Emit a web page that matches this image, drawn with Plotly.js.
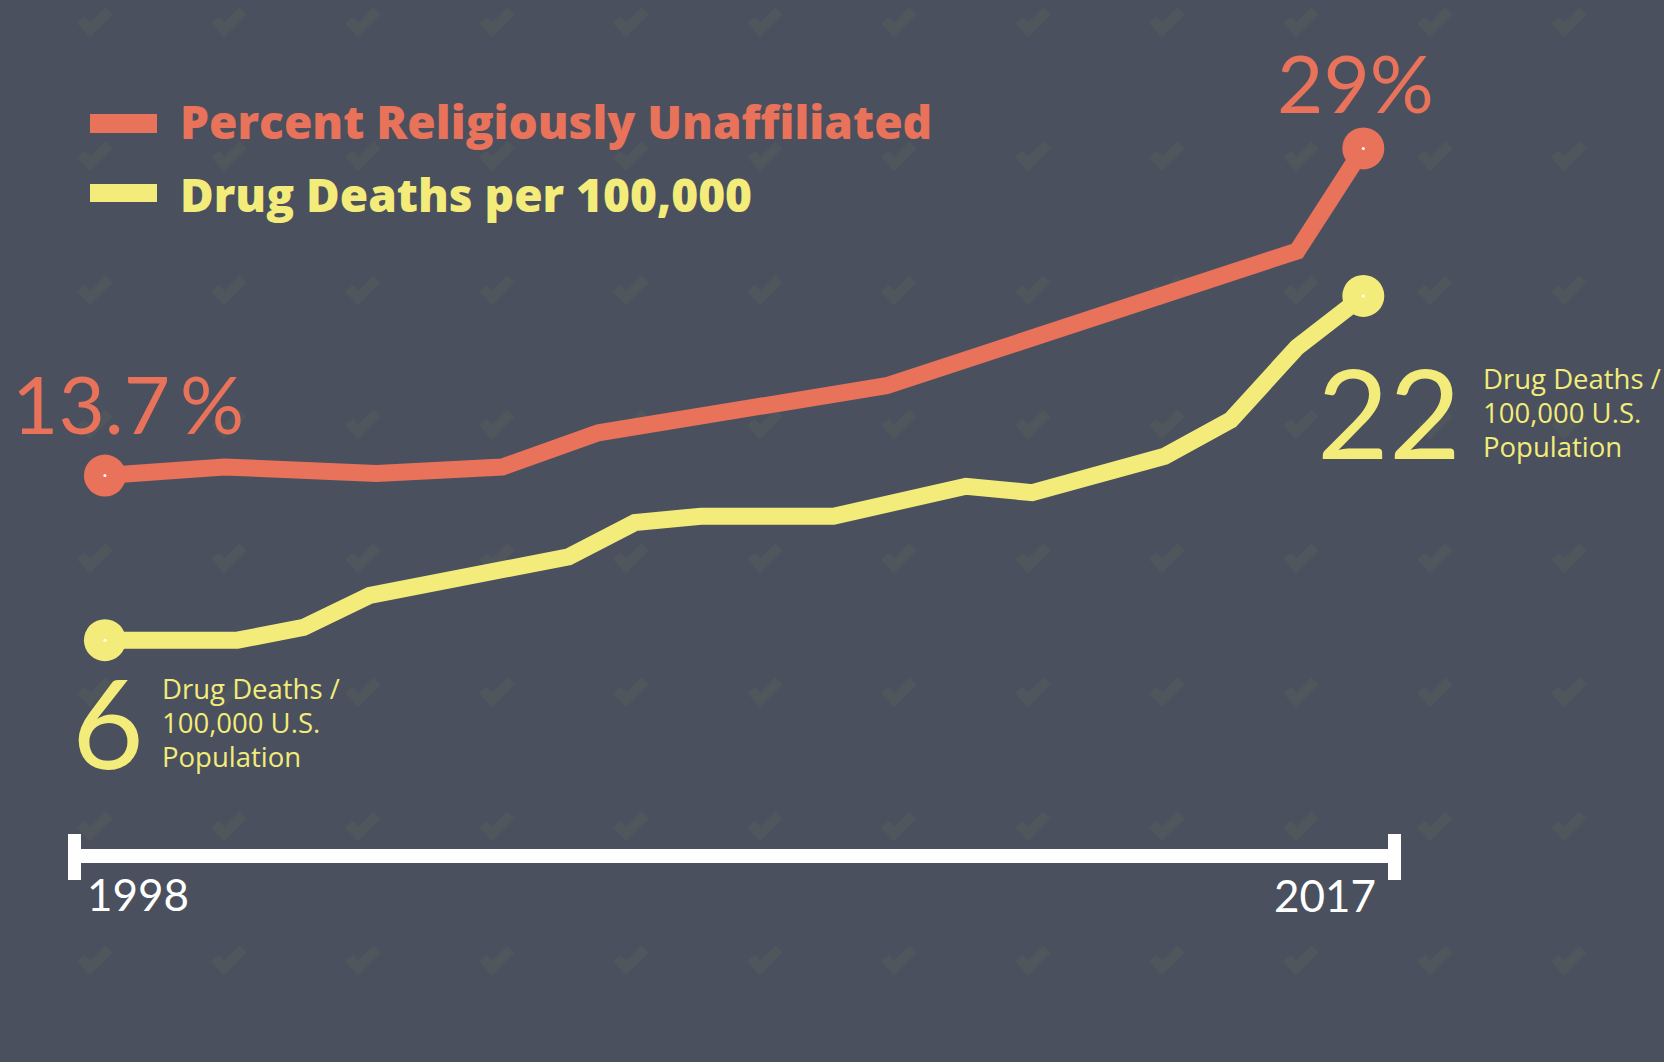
<!DOCTYPE html>
<html>
<head>
<meta charset="utf-8">
<script src="https://cdn.plot.ly/plotly-3.0.1.min.js"></script>
<style>
html, body { margin:0; padding:0; }
body {
  width:1664px; height:1062px; overflow:hidden;
  background-color:#4a505d;
  background-image:url("data:image/svg+xml;utf8,<svg xmlns='http://www.w3.org/2000/svg' width='134' height='134'><path d='M53,64 L62,74 L81,55' fill='none' stroke='%234f565c' stroke-width='10'/></svg>");
  background-size:134px 134px;
  background-position:28px -44px;
}
#chart { width:1664px; height:1062px; }
</style>
</head>
<body>
<div id="chart"></div>
<script>
// ---- data ----
const unaffiliatedYears = [1998, 1999.8, 2002.1, 2004.0, 2005.45, 2009.8, 2016.0, 2017];
const unaffiliatedPct   = [13.7, 14.1, 13.8, 14.1, 15.7, 17.9, 24.2, 29.0];

const drugYears  = [1998, 2000, 2001, 2002, 2005, 2006, 2007, 2009, 2011, 2012, 2014, 2015, 2016, 2017];
const drugDeaths = [6.0, 6.0, 6.6, 8.1, 9.9, 11.5, 11.8, 11.8, 13.2, 12.9, 14.6, 16.3, 19.7, 22.1];

const seriesNames = ["Percent Religiously Unaffiliated", "Drug Deaths per 100,000"];
const axisLabels  = ["1998", "2017"];
const startLabels = ["13.7\u2009%", "6"];
const endLabels   = ["29%", "22"];
const unitLines   = ["Drug Deaths /", "100,000 U.S.", "Population"];

// ---- styling ----
const RED = "#e8725a";
const YEL = "#f3ec7a";
const W = 1664, H = 1062;
const px = x => x / W;
const py = y => 1 - y / H;

function endpoints(xs, ys) {
  return { x: [xs[0], xs[xs.length - 1]], y: [ys[0], ys[ys.length - 1]] };
}
const rEnd = endpoints(unaffiliatedYears, unaffiliatedPct);
const yEnd = endpoints(drugYears, drugDeaths);

const traces = [
  { x: drugYears, y: drugDeaths, mode: "lines", line: { color: YEL, width: 17 }, hoverinfo: "skip" },
  { x: unaffiliatedYears, y: unaffiliatedPct, mode: "lines", line: { color: RED, width: 17 }, hoverinfo: "skip" },
  { x: yEnd.x, y: yEnd.y, mode: "markers", marker: { color: YEL, size: 42 }, hoverinfo: "skip" },
  { x: rEnd.x, y: rEnd.y, mode: "markers", marker: { color: RED, size: 42 }, hoverinfo: "skip" },
  { x: yEnd.x.concat(rEnd.x), y: yEnd.y.concat(rEnd.y), mode: "markers", marker: { color: "#ffffff", size: 3 }, hoverinfo: "skip" }
];

const numFont  = (size, color) => ({ family: "Lato, 'Open Sans', sans-serif", size: size, color: color, weight: 400 });
const smallFont = (size, color) => ({ family: "'Open Sans', Lato, sans-serif", size: size, color: color, weight: 400 });
const boldFont = (size, color) => ({ family: "'Open Sans', Lato, sans-serif", size: size, color: color, weight: 800 });

function ann(text, x, y, xanchor, font) {
  return { text: text, xref: "paper", yref: "paper", x: px(x), y: py(y),
           xanchor: xanchor, yanchor: "middle", showarrow: false, font: font, align: "left" };
}

const annotations = [
  ann(seriesNames[0], 178, 121, "left", boldFont(46, RED)),
  ann(seriesNames[1], 178, 194, "left", boldFont(46, YEL)),
  ann(startLabels[0], 10, 403, "left", numFont(80, RED)),
  ann(endLabels[0], 1275, 82, "left", numFont(80, RED)),
  ann(startLabels[1], 70, 721, "left", numFont(124, YEL)),
  ann(endLabels[1], 1315, 411, "left", numFont(124, YEL)),
  ann(axisLabels[0], 85, 894, "left", numFont(44, "#ffffff")),
  ann(axisLabels[1], 1378, 895, "right", numFont(44, "#ffffff"))
];

// unit text blocks, one annotation per line (baselines)
const leftBase = [699, 733, 767], rightBase = [389, 423, 457];
unitLines.forEach((t, i) => {
  annotations.push(ann(t, 160, leftBase[i] - 10.5, "left", smallFont(27.5, YEL)));
  annotations.push(ann(t, 1481, rightBase[i] - 10.5, "left", smallFont(27.5, YEL)));
});

function rect(x0, y0, x1, y1, color) {
  return { type: "rect", xref: "paper", yref: "paper", x0: px(x0), x1: px(x1), y0: py(y1), y1: py(y0),
           fillcolor: color, line: { width: 0 }, layer: "below" };
}

const shapes = [
  rect(90, 114, 157, 133, RED),
  rect(90, 184, 157, 202, YEL),
  rect(68, 849, 1401, 863, "#ffffff"),
  rect(68, 834, 81, 880, "#ffffff"),
  rect(1388, 834, 1401, 880, "#ffffff")
];

const layout = {
  width: W, height: H,
  margin: { l: 0, r: 0, t: 0, b: 0, pad: 0 },
  paper_bgcolor: "rgba(0,0,0,0)",
  plot_bgcolor: "rgba(0,0,0,0)",
  showlegend: false,
  xaxis: { range: [1996.416, 2021.540], visible: false, fixedrange: true },
  yaxis: { range: [-13.725, 35.939], visible: false, fixedrange: true },
  annotations: annotations,
  shapes: shapes
};

Plotly.newPlot("chart", traces, layout, { displayModeBar: false, staticPlot: true });
</script>
</body>
</html>
